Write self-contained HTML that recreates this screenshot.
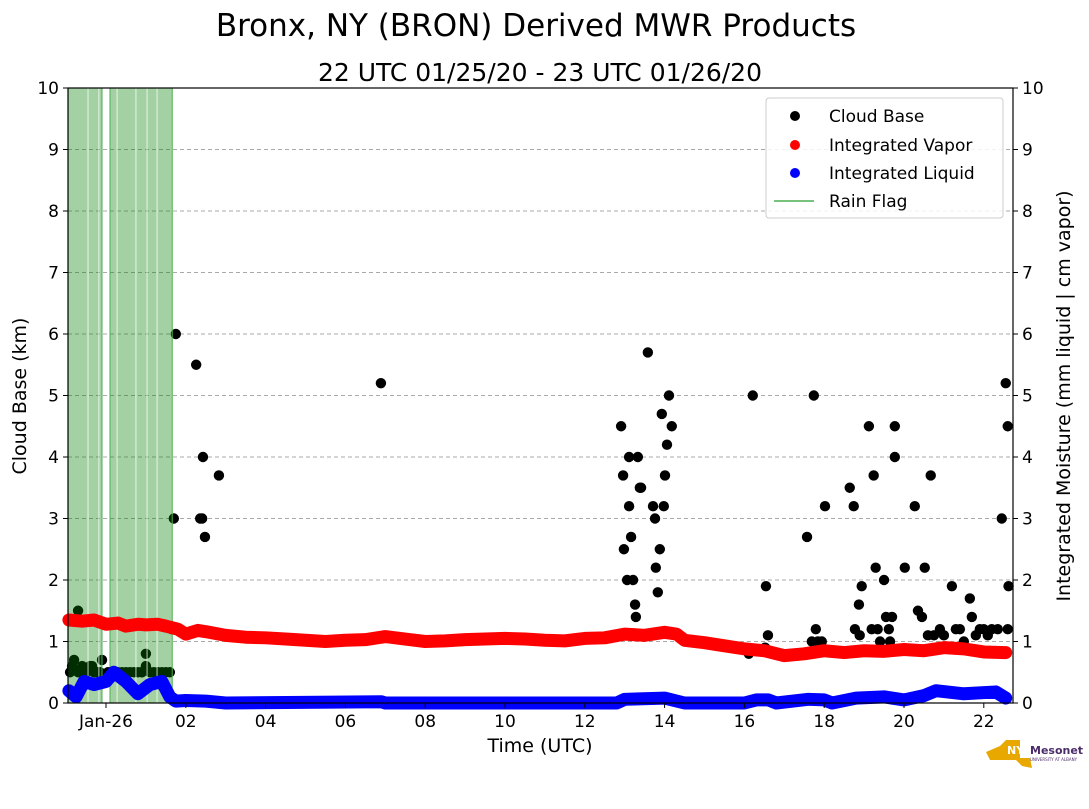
<!DOCTYPE html>
<html><head><meta charset="utf-8"><style>
body{margin:0;background:#fff;}
svg text{font-family:"DejaVu Sans","Liberation Sans",sans-serif;}
</style></head><body>
<svg id="chart" width="1089" height="804" viewBox="0 0 1089 804" xmlns="http://www.w3.org/2000/svg">
<text x="536" y="36" font-size="31" text-anchor="middle">Bronx, NY (BRON) Derived MWR Products</text>
<text x="540" y="81" font-size="25" text-anchor="middle">22 UTC 01/25/20 - 23 UTC 01/26/20</text>
<g id="grid"></g>
<g id="points"></g>
<g id="rain"></g>
<g id="series"></g>
<g id="axes"></g>
<text x="540" y="752" font-size="19" text-anchor="middle">Time (UTC)</text>
<text transform="translate(26,396) rotate(-90)" font-size="19" text-anchor="middle">Cloud Base (km)</text>
<text transform="translate(1070,396) rotate(-90)" font-size="19" text-anchor="middle">Integrated Moisture (mm liquid | cm vapor)</text>
<g>
<rect x="766" y="98" width="237" height="120" rx="3" fill="#fff" fill-opacity="0.85" stroke="#ccc"/>
<circle cx="795" cy="116" r="5" fill="#000"/><text x="829" y="122" font-size="17">Cloud Base</text>
<circle cx="795" cy="145" r="5" fill="#f00"/><text x="829" y="151" font-size="17">Integrated Vapor</text>
<circle cx="795" cy="173" r="5" fill="#00f"/><text x="829" y="179" font-size="17">Integrated Liquid</text>
<line x1="774" y1="201" x2="814" y2="201" stroke="#4caf50" stroke-width="1.5"/><text x="829" y="207" font-size="17">Rain Flag</text>
</g>
<g>
<path d="M986 752 L1000 746 L1006 740 L1020 740 L1020 758 L1030 758 L1032 768 L1022 766 L1016 760 L990 760 Z" fill="#e8a800"/>
<text x="1007" y="754" font-size="11" font-weight="bold" fill="#fff">NYS</text>
<text x="1030" y="754" font-size="11" font-weight="bold" fill="#4b2c6b">Mesonet</text>
<text x="1030" y="761" font-size="4" fill="#4b2c6b">UNIVERSITY AT ALBANY</text>
</g>
</svg>
<script>
const tickHours=[0,2,4,6,8,10,12,14,16,18,20,22];
const tickLabels=["Jan-26","02","04","06","08","10","12","14","16","18","20","22"];
const yTicks=[0,1,2,3,4,5,6,7,8,9,10];
const rainSpans=[[-0.95,-0.1],[0.1,1.66]];
const rainLines=[-0.45,-0.18,0.28,0.75,1.03,1.28];
const vaporHours=[-0.93,-0.6,-0.3,0,0.3,0.5,0.8,1,1.3,1.5,1.8,2,2.3,2.5,3,3.5,4,4.5,5,5.5,6,6.5,7,7.5,8,8.5,9,9.5,10,10.5,11,11.5,12,12.5,13,13.5,14,14.3,14.5,15,15.5,16,16.5,17,17.5,18,18.5,19,19.5,20,20.5,21,21.5,22,22.55];
const vaporVals=[1.35,1.33,1.35,1.28,1.3,1.25,1.28,1.27,1.28,1.25,1.2,1.12,1.18,1.16,1.1,1.07,1.06,1.04,1.02,1.0,1.02,1.03,1.08,1.04,1.0,1.01,1.03,1.04,1.05,1.04,1.02,1.01,1.05,1.06,1.12,1.1,1.15,1.12,1.02,0.98,0.93,0.88,0.85,0.77,0.8,0.85,0.82,0.85,0.84,0.87,0.85,0.9,0.88,0.83,0.82];
const liqHours=[-0.93,-0.75,-0.55,-0.3,0,0.2,0.5,0.8,1.1,1.4,1.6,1.75,2,2.5,3,6.9,7,12.8,13,14,14.5,16,16.3,16.6,16.8,17.6,18,18.2,18.8,19.5,20,20.5,20.8,21.5,22.3,22.55];
const liqVals=[0.2,0.1,0.35,0.3,0.35,0.5,0.35,0.15,0.3,0.35,0.1,0.03,0.04,0.03,0.0,0.02,0.0,0.0,0.06,0.08,0.0,0.0,0.05,0.05,0.0,0.06,0.05,0.0,0.08,0.1,0.05,0.12,0.2,0.15,0.18,0.08];
const cbHours=[-0.9,-0.8,-0.7,-0.6,-0.5,-0.4,-0.3,-0.2,-0.1,0.1,0.2,0.3,0.4,0.5,0.6,0.7,0.8,0.9,1.0,1.1,1.2,1.3,1.4,1.5,1.6,-0.85,-0.65,-0.35,-0.15,0.05,1.0,0.9,-0.7,1.65,
1.75,1.70,2.26,2.36,2.41,2.43,2.48,2.83,6.89,
12.91,12.96,12.98,13.06,13.11,13.11,13.16,13.21,13.26,13.28,13.33,13.38,13.41,13.58,13.71,13.76,13.78,13.83,13.88,13.93,13.98,14.01,14.06,14.11,14.18,
16.21,16.11,16.54,16.59,16.52,17.57,17.74,17.79,17.69,17.84,17.94,18.02,18.64,18.74,18.87,18.77,18.89,18.94,19.12,19.24,19.29,19.19,19.34,19.40,19.50,19.55,19.62,19.65,19.70,19.77,19.77,20.02,20.27,20.35,20.45,20.52,20.67,20.60,20.75,20.9,21.0,21.2,21.3,21.4,21.5,21.65,21.7,21.8,21.9,22.0,22.1,22.2,22.35,22.45,22.55,22.6,22.62,22.6];
const cbVals=[0.5,0.7,0.5,0.6,0.5,0.6,0.5,0.5,0.7,0.5,0.5,0.5,0.5,0.5,0.5,0.5,0.5,0.5,0.6,0.5,0.5,0.5,0.5,0.5,0.5,0.6,0.5,0.6,0.5,0.5,0.8,0.5,1.5,1.2,
6.0,3.0,5.5,3.0,3.0,4.0,2.7,3.7,5.2,
4.5,3.7,2.5,2.0,4.0,3.2,2.7,2.0,1.6,1.4,4.0,3.5,3.5,5.7,3.2,3.0,2.2,1.8,2.5,4.7,3.2,3.7,4.2,5.0,4.5,
5.0,0.8,1.9,1.1,0.9,2.7,5.0,1.2,1.0,1.0,1.0,3.2,3.5,3.2,1.6,1.2,1.1,1.9,4.5,3.7,2.2,1.2,1.2,1.0,2.0,1.4,1.2,1.0,1.4,4.5,4.0,2.2,3.2,1.5,1.4,2.2,3.7,1.1,1.1,1.2,1.1,1.9,1.2,1.2,1.0,1.7,1.4,1.1,1.2,1.2,1.1,1.2,1.2,3.0,5.2,4.5,1.9,1.2];
const NS="http://www.w3.org/2000/svg";
const L=68,R=1013,T=88,B=703;
const X=h=>106+h*39.9;
const Y=v=>B-(v/10)*(B-T);
function mk(tag,attrs,parent){const e=document.createElementNS(NS,tag);for(const k in attrs)e.setAttribute(k,attrs[k]);parent.appendChild(e);return e;}
const grid=document.getElementById('grid'),series=document.getElementById('series'),points=document.getElementById('points'),rain=document.getElementById('rain'),axes=document.getElementById('axes');
yTicks.forEach(v=>{if(v>0&&v<10){const g=mk('line',{x1:L,x2:R,y1:Y(v),y2:Y(v),stroke:'#aaa','stroke-dasharray':'4,3','stroke-width':1},grid);

}});
function line(hs,vs,color,name){const p=mk('polyline',{points:hs.map((h,i)=>X(h)+','+Y(vs[i])).join(' '),fill:'none',stroke:color,'stroke-width':13,'stroke-linejoin':'round','stroke-linecap':'round'},series);

}
line(vaporHours,vaporVals,'#f00','integrated-vapor-series');
line(liqHours,liqVals,'#00f','integrated-liquid-series');
cbHours.forEach((h,i)=>{const c=mk('circle',{cx:X(h),cy:Y(cbVals[i]),r:5.2,fill:'#000'},points);

});
rainSpans.forEach(s=>{const x1=Math.max(L,X(s[0])),x2=X(s[1]);const r=mk('rect',{x:x1,y:T,width:x2-x1,height:B-T,fill:'#008000','fill-opacity':0.36,stroke:'#4caf50','stroke-width':1},rain);

});
rainLines.forEach(h=>{const l=mk('line',{x1:X(h),x2:X(h),y1:T,y2:B,stroke:'#fff','stroke-opacity':0.5,'stroke-width':1.5},rain);

});
const fr=mk('rect',{x:L,y:T,width:R-L,height:B-T,fill:'none',stroke:'#000','stroke-width':1.2},axes);


yTicks.forEach(v=>{const y=Y(v);
mk('line',{x1:L-5,x2:L,y1:y,y2:y,stroke:'#000'},axes);mk('line',{x1:R,x2:R+5,y1:y,y2:y,stroke:'#000'},axes);
const t=mk('text',{x:L-9,y:y+6,'font-size':17,'text-anchor':'end'},axes);t.textContent=v;


const t2=mk('text',{x:R+9,y:y+6,'font-size':17},axes);t2.textContent=v;

});
tickHours.forEach((h,i)=>{const x=X(h);mk('line',{x1:x,x2:x,y1:B,y2:B+5,stroke:'#000'},axes);
const t=mk('text',{x:x,y:B+24,'font-size':17,'text-anchor':'middle'},axes);t.textContent=tickLabels[i];

});
</script>
</body></html>
